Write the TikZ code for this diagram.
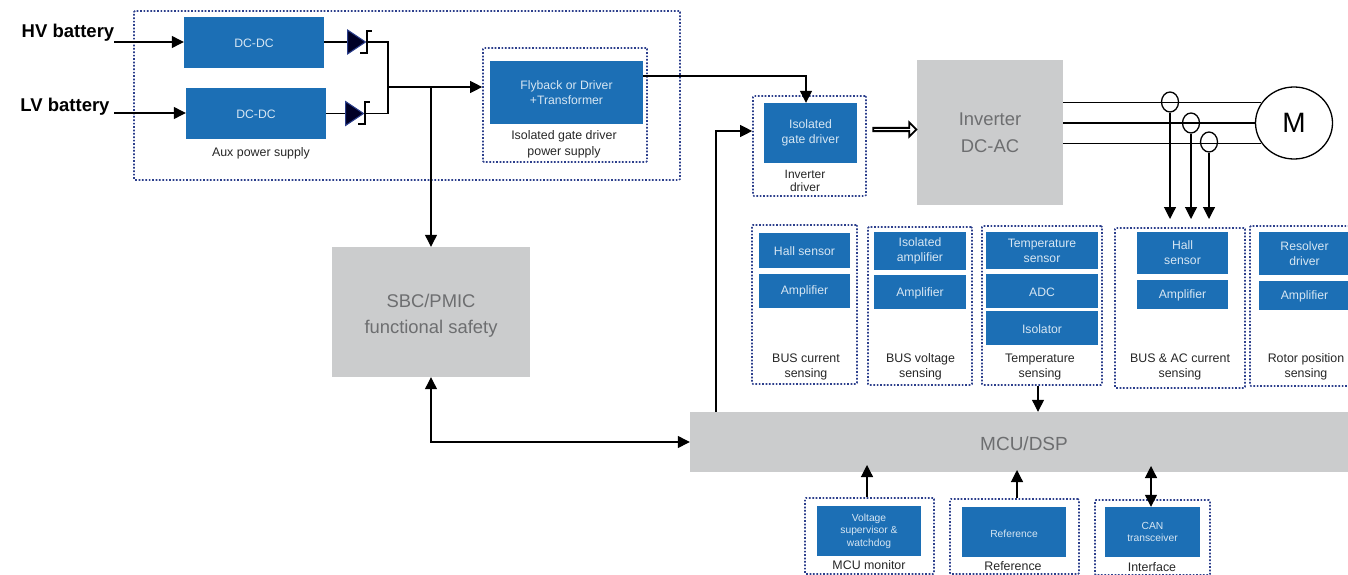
\documentclass[tikz,border=0pt]{standalone}
\usepackage{fontspec}
\setmainfont{Liberation Sans}
\usepackage{tikz}
\usetikzlibrary{shapes,shapes.geometric,shapes.arrows,arrows.meta,positioning}
\definecolor{tiblue}{HTML}{1C6FB5}
\definecolor{tigray}{HTML}{CBCCCD}
\definecolor{tidot}{HTML}{2C3F8C}
\definecolor{titext}{HTML}{6D6E70}
\definecolor{bluetext}{HTML}{D6E6F3}
\tikzstyle{block} = [fill=tiblue, text=bluetext, align=center, inner sep=0pt,
    execute at begin node=\rule{0pt}{11pt},
    font=\fontsize{12.2}{15}\selectfont]
\tikzstyle{smallblock} = [block, font=\fontsize{10.3}{12.5}\selectfont]
\tikzstyle{graybox} = [fill=tigray, text=titext, align=center, inner sep=0pt,
    execute at begin node=\rule{0pt}{17pt},
    font=\fontsize{18.4}{27}\selectfont]
\tikzstyle{dotbox} = [draw=tidot, line width=1.7pt, dash pattern=on 1.7pt off 1.7pt,
    rounded corners=1pt, inner sep=0pt]
\tikzstyle{lbl} = [align=center, inner sep=0pt, text=black!85,
    font=\fontsize{12.4}{15}\selectfont]
\tikzstyle{batt} = [inner sep=0pt, font=\fontsize{18.5}{20}\selectfont\bfseries]
\tikzstyle{wire} = [draw, line width=1.2pt]
\tikzstyle{conn} = [wire, -{Triangle[length=12pt,width=12pt]}]
\tikzstyle{biconn} = [wire, {Triangle[length=12pt,width=12pt]}-{Triangle[length=12pt,width=12pt]}]
\tikzstyle{diode} = [isosceles triangle, isosceles triangle stretches, minimum width=24pt,
    minimum height=18pt, inner sep=0pt, fill=black!85!blue, draw=tidot, line width=1pt,
    anchor=lower side]
\tikzstyle{diodebar} = [draw, line width=2pt]
\tikzstyle{ct} = [draw, ellipse, minimum width=17pt, minimum height=20pt,
    inner sep=0pt, line width=1.3pt]

\begin{document}
\begin{tikzpicture}[x=1pt, y=-1pt]
  \useasboundingbox (0,0) rectangle (1348,575);
  % power supply
  \node [dotbox, minimum width=546pt, minimum height=169pt] (aux) at (407,95.5) {};
  \node [dotbox, minimum width=164pt, minimum height=114pt] (gatesup) at (565,105) {};
  \node [batt] (hv) at (68,32.5) {HV battery};
  \node [batt] (lv) at (65,106.5) {LV battery};
  \coordinate (hvin) at (114,42);
  \coordinate (lvin) at (114,113);
  \node [block, minimum width=140pt, minimum height=51pt] (dc1) at (254,42.5) {DC-DC};
  \node [block, minimum width=140pt, minimum height=51pt] (dc2) at (256,113.5) {DC-DC};
  \node [diode] (d1) at (347,42) {};
  \node [diode] (d2) at (345,113.5) {};
  \coordinate (j1) at (388,42);
  \coordinate (j2) at (388,113.5);
  \coordinate (j3) at (388,87);
  \coordinate (j4) at (431,87);
  \node [lbl] (auxl) at (261,153) {Aux power supply};
  \node [block, minimum width=153pt, minimum height=63pt] (fly) at (566.5,92.5)
  {Flyback or Driver\\+Transformer};
  \node [lbl, font=\fontsize{12.4}{16}\selectfont] (gatesupl) at (564,144)
  {Isolated gate driver\\power supply};
  \draw [conn] (hvin) -- (dc1.west |- hvin);
  \draw [conn] (lvin) -- (dc2.west |- lvin);
  \draw [wire] (dc1.east |- d1.apex) -- (d1.lower side);
  \draw [wire] (dc2.east |- d2.apex) -- (d2.lower side);
  \draw [wire] (d1.apex) -- (j1) -- (j2) -- (d2.apex);
  \draw [diodebar] ([xshift=5pt,yshift=11pt]d1.apex) -- ++(-5,0) -- ++(0,22) -- ++(-7,0);
  \draw [diodebar] ([xshift=5pt,yshift=11pt]d2.apex) -- ++(-5,0) -- ++(0,22) -- ++(-7,0);
  \draw [conn] (j3) -- (gatesup.west |- j3);
  % inverter
  \node [dotbox, minimum width=113pt, minimum height=100pt] (drv) at (809.5,146) {};
  \node [block, minimum width=93pt, minimum height=60pt] (gate) at (810.5,133)
  {Isolated\\gate driver};
  \node [lbl, font=\fontsize{12}{13}\selectfont] (drvl) at (805,181) {Inverter\\driver};
  \node [graybox, minimum width=146pt, minimum height=145pt] (inv) at (990,132.5)
  {Inverter\\DC-AC};
  \node [draw, ellipse, line width=1.3pt, minimum width=77pt, minimum height=72pt,
    inner sep=0pt, font=\fontsize{28}{30}\selectfont] (mot) at (1294,123) {M};
  \draw [wire] (inv.east |- mot.148) -- (mot.148);
  \draw [wire] (inv.east |- mot.west) -- (mot.west);
  \draw [wire] (inv.east |- mot.212) -- (mot.212);
  \node [ct] (ct1) at (1170,102) {};
  \node [ct] (ct2) at (1191,123) {};
  \node [ct] (ct3) at (1209,142) {};
  \coordinate (ct1e) at (1170,219);
  \coordinate (ct2e) at (1191,219);
  \coordinate (ct3e) at (1209,219);
  \draw [conn] (ct1) -- (ct1e);
  \draw [conn] (ct2) -- (ct2e);
  \draw [conn] (ct3) -- (ct3e);
  \node [draw, fill=white, single arrow, minimum height=43pt, minimum width=14pt,
    single arrow head extend=3pt, inner sep=0pt, line width=1.8pt] (dbl) at (894,129.5) {};
  \draw [conn] (fly.east |- 0,76) -| (gate.north -| 806,0);
  % safety and mcu
  \node [graybox, font=\fontsize{18.4}{26}\selectfont, minimum width=198pt, minimum height=130pt] (sbc) at (431,312)
  {\rule{0pt}{21pt}SBC/PMIC\\functional safety};
  \node [graybox, font=\fontsize{19}{27}\selectfont, minimum width=658pt, minimum height=60pt] (mcu) at (1019,442) {\hspace*{10pt}MCU/DSP};
  \draw [conn] (j4) -- (sbc.north);
  \draw [biconn] (sbc.south) |- (mcu.west);
  \draw [conn] (mcu.north -| 716,0) |- (drv.west |- 0,131);
  % sensing
  \node [dotbox, minimum width=105pt, minimum height=159pt] (bcs) at (804.5,304.5) {};
  \node [block, minimum width=91pt, minimum height=35pt] (bcs1) at (804.5,250.5) {Hall sensor};
  \node [block, minimum width=91pt, minimum height=34pt, below of=bcs1, node distance=40pt] (bcs2) {Amplifier};
  \node [lbl] (bcsl) at (806,367) {BUS current\\sensing};
  \node [dotbox, minimum width=104pt, minimum height=158pt] (bvs) at (920,306) {};
  \node [block, minimum width=92pt, minimum height=38pt] (bvs1) at (920,251) {Isolated\\amplifier};
  \node [block, minimum width=92pt, minimum height=34pt, below of=bvs1, node distance=41pt] (bvs2) {Amplifier};
  \node [lbl] (bvsl) at (920.5,367) {BUS voltage\\sensing};
  \node [dotbox, minimum width=120pt, minimum height=159pt] (tmp) at (1042,305.5) {};
  \node [block, minimum width=112pt, minimum height=37pt] (tmp1) at (1042,250.5) {Temperature\\sensor};
  \node [block, minimum width=112pt, minimum height=34pt, below of=tmp1, node distance=40.5pt] (tmp2) {ADC};
  \node [block, minimum width=112pt, minimum height=34pt, below of=tmp2, node distance=37pt] (tmp3) {Isolator};
  \node [lbl] (tmpl) at (1040,367.5) {Temperature\\sensing};
  \node [dotbox, minimum width=130pt, minimum height=160pt] (acs) at (1180,308) {};
  \node [block, minimum width=91pt, minimum height=42pt] (acs1) at (1182.5,253) {Hall\\sensor};
  \node [block, minimum width=91pt, minimum height=29pt, below of=acs1, node distance=41.5pt] (acs2) {Amplifier};
  \node [lbl] (acsl) at (1180,367) {BUS \& AC current\\sensing};
  \node [dotbox, minimum width=104pt, minimum height=160pt] (rot) at (1302,306) {};
  \node [block, minimum width=91pt, minimum height=43pt] (rot1) at (1304.5,253.5) {Resolver\\driver};
  \node [block, minimum width=91pt, minimum height=29pt, below of=rot1, node distance=42pt] (rot2) {Amplifier};
  \node [lbl] (rotl) at (1306,367) {Rotor position\\sensing};
  \draw [conn] (tmp.south -| 1038,0) -- (mcu.north -| 1038,0);
  % monitor, reference, interface
  \node [dotbox, minimum width=129pt, minimum height=76pt] (mon) at (869.5,536) {};
  \node [smallblock, minimum width=104pt, minimum height=50pt] (mon1) at (869,531) {Voltage\\supervisor \&\\watchdog};
  \node [lbl] (monl) at (869,565) {MCU monitor};
  \node [dotbox, minimum width=129pt, minimum height=75pt] (ref) at (1014.5,536.5) {};
  \node [smallblock, minimum width=104pt, minimum height=50pt] (ref1) at (1014,532) {Reference};
  \node [lbl] (refl) at (1013,566) {Reference};
  \node [dotbox, minimum width=115pt, minimum height=75pt] (ifc) at (1152.5,537.5) {};
  \node [smallblock, minimum width=95pt, minimum height=50pt] (ifc1) at (1152.5,532) {CAN\\transceiver};
  \node [lbl] (ifcl) at (1152,567) {Interface};
  \coordinate (monin) at (867,465);
  \coordinate (refin) at (1017,470);
  \coordinate (ifcin) at (1151,466);
  \draw [conn] (mon.north -| monin) -- (monin);
  \draw [conn] (ref.north -| refin) -- (refin);
  \draw [biconn] (ifc1.north -| ifcin) -- (ifcin);
\end{tikzpicture}
\end{document}
